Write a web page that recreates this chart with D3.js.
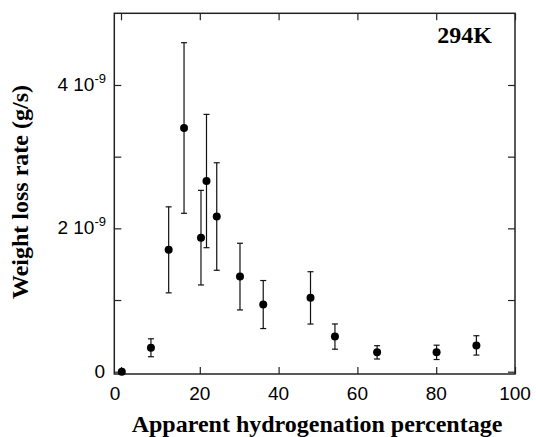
<!DOCTYPE html>
<html>
<head>
<meta charset="utf-8">
<script src="https://cdn.jsdelivr.net/npm/d3@7"></script>
<style>
  body { margin: 0; background: #fff; }
  svg { display: block; }
  .tick-label { font-family: "Liberation Sans", Arial, sans-serif; font-size: 19px; fill: #000; }
  .title { font-family: "Liberation Serif", "Times New Roman", serif; font-weight: bold; fill: #000; }
</style>
</head>
<body>
<div id="chart"></div>
<script>
// Data
const hydrogenation = [0.2, 7.6, 12.1, 16.0, 20.3, 21.7, 24.3, 30.2, 36.1, 48.1, 54.3, 65.0, 80.1, 90.2];
const lossRate = [0, 0.334e-9, 1.70e-9, 3.40e-9, 1.87e-9, 2.66e-9, 2.165e-9, 1.327e-9, 0.937e-9, 1.03e-9, 0.49e-9, 0.27e-9, 0.27e-9, 0.367e-9];
const lossErr = [0, 0.125e-9, 0.6e-9, 1.19e-9, 0.66e-9, 0.93e-9, 0.75e-9, 0.465e-9, 0.335e-9, 0.365e-9, 0.176e-9, 0.093e-9, 0.1e-9, 0.135e-9];

const xTicks = [0, 20, 40, 60, 80, 100];
const yTicks = [0, 1e-9, 2e-9, 3e-9, 4e-9];
const yTickLabels = { 0: "0", 2: "2 10", 4: "4 10" };

const width = 536, height = 437;

const svg = d3.select("#chart").append("svg")
    .attr("width", width)
    .attr("height", height);

// Scales
const x = d3.scaleLinear().domain([-1.7, 100]).range([114.3, 515]);
const y = d3.scaleLinear().domain([-0.032e-9, 5e-9]).range([374, 13.3]);

const tickLen = 7;

// Ticks on all four sides, pointing in
svg.append("g")
    .attr("transform", `translate(0,${y.range()[0]})`)
    .call(d3.axisBottom(x).tickValues(xTicks).tickSizeInner(-tickLen).tickSizeOuter(0).tickFormat(""));
svg.append("g")
    .attr("transform", `translate(0,${y.range()[1]})`)
    .call(d3.axisTop(x).tickValues(xTicks).tickSizeInner(-tickLen).tickSizeOuter(0).tickFormat(""));
svg.append("g")
    .attr("transform", `translate(${x.range()[0]},0)`)
    .call(d3.axisLeft(y).tickValues(yTicks).tickSizeInner(-tickLen).tickSizeOuter(0).tickFormat(""));
svg.append("g")
    .attr("transform", `translate(${x.range()[1]},0)`)
    .call(d3.axisRight(y).tickValues(yTicks).tickSizeInner(-tickLen).tickSizeOuter(0).tickFormat(""));

svg.selectAll(".domain").remove();
svg.selectAll(".tick line").attr("stroke", "#222").attr("stroke-width", 1.2);

// Frame
svg.append("rect")
    .attr("x", x.range()[0])
    .attr("y", y.range()[1])
    .attr("width", x.range()[1] - x.range()[0])
    .attr("height", y.range()[0] - y.range()[1])
    .attr("fill", "none")
    .attr("stroke", "#222")
    .attr("stroke-width", 1.5);

// X tick labels
svg.append("g").selectAll("text")
    .data(xTicks)
    .join("text")
    .attr("class", "tick-label")
    .attr("x", d => x(d) + (d === 0 ? -6 : 0))
    .attr("y", 400)
    .attr("text-anchor", "middle")
    .text(d => d);

// Y tick labels (0, 2 10^-9, 4 10^-9)
const yl = svg.append("g").selectAll("text")
    .data(yTicks.filter(d => yTickLabels[Math.round(d * 1e9)] !== undefined))
    .join("text")
    .attr("class", "tick-label")
    .attr("text-anchor", "end")
    .attr("y", d => y(d) + 6);

yl.filter(d => d === 0)
    .attr("x", 105)
    .text("0");

yl.filter(d => d !== 0)
    .attr("x", 106)
    .each(function (d) {
        const t = d3.select(this);
        t.append("tspan").text(yTickLabels[Math.round(d * 1e9)]);
        t.append("tspan").attr("dy", -8).attr("font-size", 13).text("-9");
    });

// Error bars
const capW = 3;
const gErr = svg.append("g").attr("stroke", "#111").attr("stroke-width", 1.2);
hydrogenation.forEach((h, i) => {
    if (lossErr[i] <= 0) return;
    const cx = x(h);
    const top = y(lossRate[i] + lossErr[i]);
    const bot = y(lossRate[i] - lossErr[i]);
    gErr.append("line").attr("x1", cx).attr("x2", cx).attr("y1", top).attr("y2", bot);
    gErr.append("line").attr("x1", cx - capW).attr("x2", cx + capW).attr("y1", top).attr("y2", top);
    gErr.append("line").attr("x1", cx - capW).attr("x2", cx + capW).attr("y1", bot).attr("y2", bot);
});

// Points
svg.append("g").selectAll("circle")
    .data(hydrogenation)
    .join("circle")
    .attr("cx", d => x(d))
    .attr("cy", (d, i) => y(lossRate[i]))
    .attr("r", 4)
    .attr("fill", "#000");

// Titles
svg.append("text")
    .attr("class", "title")
    .attr("x", 317)
    .attr("y", 432)
    .attr("text-anchor", "middle")
    .attr("font-size", 24)
    .text("Apparent hydrogenation percentage");

svg.append("text")
    .attr("class", "title")
    .attr("transform", `translate(28,192) rotate(-90)`)
    .attr("text-anchor", "middle")
    .attr("font-size", 24)
    .text("Weight loss rate (g/s)");

svg.append("text")
    .attr("class", "title")
    .attr("x", 492)
    .attr("y", 43)
    .attr("text-anchor", "end")
    .attr("font-size", 24)
    .text("294K");
</script>
</body>
</html>
